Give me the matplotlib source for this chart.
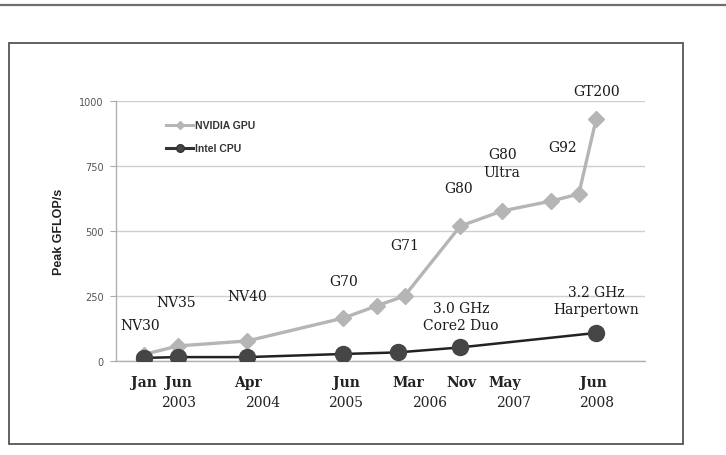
import matplotlib
matplotlib.use("Agg")
import matplotlib.pyplot as plt
from matplotlib.lines import Line2D
from matplotlib.patches import Rectangle

# ---- data (x = months since Jan 2003) ----
gpu_months = [0, 4.9, 14.8, 28.6, 33.4, 37.4, 45.4, 51.4, 58.4, 62.4, 64.9]
gpu_gflops = [25, 58, 77, 165, 212, 250, 519, 577, 615, 642, 931]
cpu_months = [0, 4.9, 14.8, 28.6, 36.4, 45.3, 64.9]
cpu_gflops = [12, 15, 15, 27, 33, 52, 108]

month_ticks = [0, 5, 15, 29, 38, 45.5, 51.8, 64.5]
month_labels = ["Jan", "Jun", "Apr", "Jun", "Mar", "Nov", "May", "Jun"]
year_pos = [5, 17, 29, 41, 53, 65]
year_labels = ["2003", "2004", "2005", "2006", "2007", "2008"]

gpu_names = ["NV30", "NV35", "NV40", "G70", "G71", "G80", "G80\nUltra", "G92", "GT200"]
gpu_name_xy = [(-0.6, 138), (4.7, 226), (14.8, 249), (28.6, 307), (37.4, 448),
               (45.2, 667), (51.4, 762), (60.1, 824), (65.0, 1038)]
cpu_names = ["3.0 GHz\nCore2 Duo", "3.2 GHz\nHarpertown"]
cpu_name_xy = [(45.5, 172), (64.9, 234)]

y_ticks = [0, 250, 500, 750, 1000]

W, H = 726, 456
fig = plt.figure(figsize=(W / 100, H / 100), dpi=100)
fig.patch.set_facecolor("white")

# outer decorations
fig.add_artist(Line2D([0, 1], [1 - 5.5 / H, 1 - 5.5 / H], transform=fig.transFigure,
                      color="#6e6e6e", lw=1.6))
fig.add_artist(Rectangle((9 / W, 1 - 445 / H), (683 - 9) / W, (445 - 44) / H,
                         transform=fig.transFigure, fill=False,
                         edgecolor="#555555", lw=1.3))

left, right, bottom_px, top_px = 116, 645, 362, 102
ax = fig.add_axes([left / W, 1 - bottom_px / H, (right - left) / W, (bottom_px - top_px) / H])
ax.set_facecolor("none")

# series
ax.plot(gpu_months, gpu_gflops, color="#b5b5b5", lw=2.4, marker="D", ms=8.5,
        markeredgecolor="#b5b5b5", zorder=3)
ax.plot(cpu_months, cpu_gflops, color="#222222", lw=1.8, marker="o", ms=11.5,
        markerfacecolor="#454545", markeredgecolor="#454545", zorder=4)

ax.set_xlim(-4.0, 71.9)
ax.set_ylim(0, 1000)

ax.set_yticks(y_ticks)
ax.set_yticklabels([str(v) for v in y_ticks], fontsize=7, color="#555555",
                   family="DejaVu Sans")
ax.tick_params(axis="y", length=4, color="#aaaaaa", pad=5)
ax.yaxis.grid(True, color="#cfcfcf", lw=1)
ax.set_axisbelow(True)

ax.set_xticks(month_ticks)
ax.set_xticklabels(month_labels, fontsize=10, family="DejaVu Serif",
                   fontweight="bold", color="#222222")
ax.tick_params(axis="x", length=0, pad=10)

for x, lab in zip(year_pos, year_labels):
    ax.text(x, -0.158, lab, transform=ax.get_xaxis_transform(), ha="center",
            va="center", fontsize=10, family="DejaVu Serif", color="#222222")

for sp in ["top", "right"]:
    ax.spines[sp].set_visible(False)
for sp in ["left", "bottom"]:
    ax.spines[sp].set_color("#b0b0b0")
    ax.spines[sp].set_linewidth(1)

ax.set_ylabel("Peak GFLOP/s", fontsize=9, family="Liberation Sans",
              fontweight="bold", color="#222222", labelpad=10)

for name, (x, y) in zip(gpu_names, gpu_name_xy):
    ax.text(x, y, name, ha="center", va="center", fontsize=10,
            family="DejaVu Serif", color="#1a1a1a", linespacing=1.3, zorder=5)
for name, (x, y) in zip(cpu_names, cpu_name_xy):
    ax.text(x, y, name, ha="center", va="center", fontsize=10,
            family="DejaVu Serif", color="#1a1a1a", linespacing=1.3, zorder=5)

handles = [
    Line2D([], [], color="#b5b5b5", lw=2.2, marker="D", ms=4.5),
    Line2D([], [], color="#333333", lw=2.2, marker="o", ms=5.5,
           markerfacecolor="#454545"),
]
leg = ax.legend(handles, ["NVIDIA GPU", "Intel CPU"], loc="upper left",
                bbox_to_anchor=(161 / W, 1 - 116 / H), bbox_transform=fig.transFigure,
                frameon=False, handlelength=2.6, handletextpad=0.2,
                labelspacing=1.25, borderpad=0,
                prop={"family": "Liberation Sans", "weight": "bold", "size": 7.5})
for t in leg.get_texts():
    t.set_color("#333333")

fig.savefig("out.png", dpi=100, facecolor="white")
